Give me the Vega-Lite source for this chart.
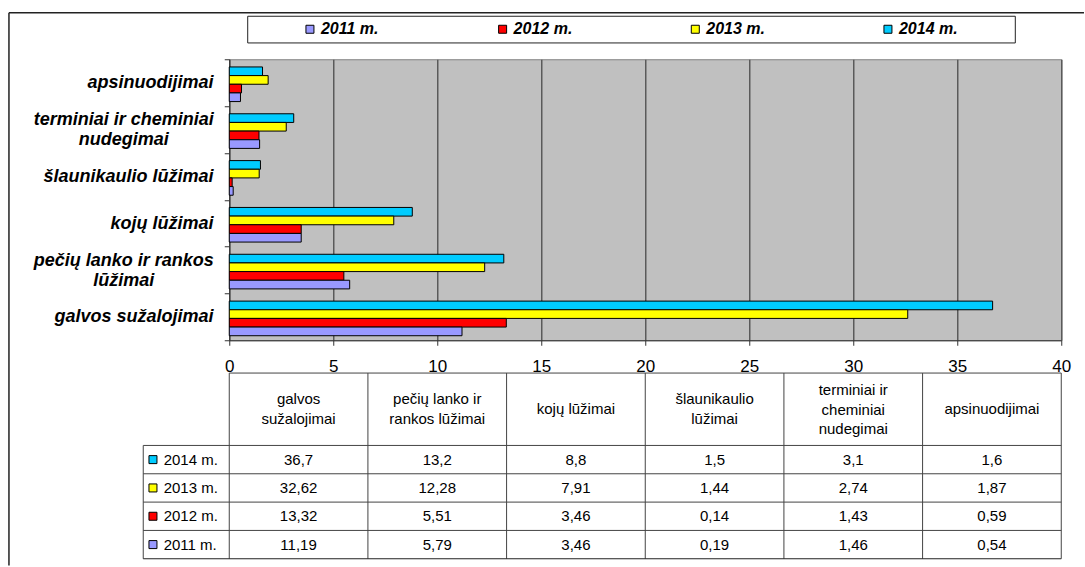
{
  "$schema": "https://vega.github.io/schema/vega-lite/v6.json",
  "background": "white",
  "padding": {"left": 7.25, "top": 11.25, "right": 0, "bottom": 0},
  "bounds": "flush",
  "spacing": 0,
  "config": {
    "font": "Liberation Sans",
    "view": {"stroke": null},
    "locale": {"number": {"decimal": ",", "thousands": " ", "grouping": [3], "currency": ["", " €"]}}
  },
  "datasets": {
    "injuries": [
      {"cat": "galvos sužalojimai", "year": 2014, "series": "2014 m.", "value": 36.7},
      {"cat": "galvos sužalojimai", "year": 2013, "series": "2013 m.", "value": 32.62},
      {"cat": "galvos sužalojimai", "year": 2012, "series": "2012 m.", "value": 13.32},
      {"cat": "galvos sužalojimai", "year": 2011, "series": "2011 m.", "value": 11.19},
      {"cat": "pečių lanko ir rankos lūžimai", "year": 2014, "series": "2014 m.", "value": 13.2},
      {"cat": "pečių lanko ir rankos lūžimai", "year": 2013, "series": "2013 m.", "value": 12.28},
      {"cat": "pečių lanko ir rankos lūžimai", "year": 2012, "series": "2012 m.", "value": 5.51},
      {"cat": "pečių lanko ir rankos lūžimai", "year": 2011, "series": "2011 m.", "value": 5.79},
      {"cat": "kojų lūžimai", "year": 2014, "series": "2014 m.", "value": 8.8},
      {"cat": "kojų lūžimai", "year": 2013, "series": "2013 m.", "value": 7.91},
      {"cat": "kojų lūžimai", "year": 2012, "series": "2012 m.", "value": 3.46},
      {"cat": "kojų lūžimai", "year": 2011, "series": "2011 m.", "value": 3.46},
      {"cat": "šlaunikaulio lūžimai", "year": 2014, "series": "2014 m.", "value": 1.5},
      {"cat": "šlaunikaulio lūžimai", "year": 2013, "series": "2013 m.", "value": 1.44},
      {"cat": "šlaunikaulio lūžimai", "year": 2012, "series": "2012 m.", "value": 0.14},
      {"cat": "šlaunikaulio lūžimai", "year": 2011, "series": "2011 m.", "value": 0.19},
      {"cat": "terminiai ir cheminiai nudegimai", "year": 2014, "series": "2014 m.", "value": 3.1},
      {"cat": "terminiai ir cheminiai nudegimai", "year": 2013, "series": "2013 m.", "value": 2.74},
      {"cat": "terminiai ir cheminiai nudegimai", "year": 2012, "series": "2012 m.", "value": 1.43},
      {"cat": "terminiai ir cheminiai nudegimai", "year": 2011, "series": "2011 m.", "value": 1.46},
      {"cat": "apsinuodijimai", "year": 2014, "series": "2014 m.", "value": 1.6},
      {"cat": "apsinuodijimai", "year": 2013, "series": "2013 m.", "value": 1.87},
      {"cat": "apsinuodijimai", "year": 2012, "series": "2012 m.", "value": 0.59},
      {"cat": "apsinuodijimai", "year": 2011, "series": "2011 m.", "value": 0.54}
    ],
    "cats": [
      {"cat": "galvos sužalojimai", "header": "galvos\nsužalojimai"},
      {"cat": "pečių lanko ir rankos lūžimai", "header": "pečių lanko ir\nrankos lūžimai"},
      {"cat": "kojų lūžimai", "header": "kojų lūžimai"},
      {"cat": "šlaunikaulio lūžimai", "header": "šlaunikaulio\nlūžimai"},
      {"cat": "terminiai ir cheminiai nudegimai", "header": "terminiai ir\ncheminiai\nnudegimai"},
      {"cat": "apsinuodijimai", "header": "apsinuodijimai"}
    ],
    "years": [
      {"year": 2011, "series": "2011 m."},
      {"year": 2012, "series": "2012 m."},
      {"year": 2013, "series": "2013 m."},
      {"year": 2014, "series": "2014 m."}
    ],
    "one": [{}]
  },
  "vconcat": [
    {
      "width": 832,
      "height": 42.5,
      "layer": [
        {
          "data": {"name": "one"},
          "mark": {"type": "rect", "fill": "white", "stroke": "#222222", "strokeWidth": 1},
          "encoding": {
            "x": {"datum": 2010.677, "type": "quantitative", "scale": {"domain": [2011, 2014], "range": [80.7, 658.7], "nice": false, "zero": false}, "axis": null},
            "x2": {"datum": 2014.661},
            "y": {"datum": 15.8, "type": "quantitative", "scale": {"domain": [0, 42.5], "nice": false, "zero": false}, "axis": null},
            "y2": {"datum": 42.5}
          }
        },
        {
          "data": {"name": "years"},
          "mark": {"type": "point", "shape": "square", "filled": true, "size": 64, "stroke": "black", "strokeWidth": 1, "opacity": 1},
          "encoding": {
            "x": {"field": "year", "type": "quantitative"},
            "y": {"datum": 29.5, "type": "quantitative"},
            "color": {"field": "series", "type": "nominal", "scale": {"domain": ["2011 m.", "2012 m.", "2013 m.", "2014 m."], "range": ["#9999FF", "#FF0000", "#FFFF00", "#00CCFF"]}, "legend": null}
          }
        },
        {
          "data": {"name": "years"},
          "mark": {"type": "text", "align": "left", "baseline": "middle", "dx": 11, "font": "Liberation Sans", "fontSize": 16, "fontWeight": "bold", "fontStyle": "italic", "color": "black"},
          "encoding": {
            "x": {"field": "year", "type": "quantitative"},
            "y": {"datum": 29.5, "type": "quantitative"},
            "text": {"field": "series"}
          }
        }
      ]
    },
    {
      "width": 832,
      "height": 281,
      "data": {"name": "injuries"},
      "view": {"fill": "#C0C0C0", "stroke": "#808080", "strokeWidth": 1},
      "mark": {"type": "bar", "stroke": "black", "strokeWidth": 1},
      "encoding": {
        "y": {
          "field": "cat", "type": "nominal",
          "sort": ["apsinuodijimai", "terminiai ir cheminiai nudegimai", "šlaunikaulio lūžimai", "kojų lūžimai", "pečių lanko ir rankos lūžimai", "galvos sužalojimai"],
          "scale": {"paddingInner": 0, "paddingOuter": 0},
          "axis": {
            "title": null,
            "domainColor": "#333333", "domainWidth": 1,
            "tickColor": "#333333", "tickSize": 5, "tickBand": "extent",
            "labelFont": "Liberation Sans", "labelFontSize": 18, "labelFontWeight": "bold", "labelFontStyle": "italic", "labelColor": "black",
            "labelLineHeight": 20, "labelLimit": 400,
            "labelExpr": "datum.value == 'terminiai ir cheminiai nudegimai' ? ['terminiai ir cheminiai', 'nudegimai'] : datum.value == 'pečių lanko ir rankos lūžimai' ? ['pečių lanko ir rankos', 'lūžimai'] : datum.value",
            "labelAlign": {"condition": {"test": "datum.value == 'terminiai ir cheminiai nudegimai' || datum.value == 'pečių lanko ir rankos lūžimai'", "value": "center"}, "value": "right"},
            "labelPadding": {"condition": {"test": "datum.value == 'terminiai ir cheminiai nudegimai' || datum.value == 'pečių lanko ir rankos lūžimai'", "value": 101}, "value": 11.3},
            "labelOffset": {"condition": {"test": "datum.value == 'terminiai ir cheminiai nudegimai' || datum.value == 'pečių lanko ir rankos lūžimai'", "value": -10}, "value": 0}
          }
        },
        "x": {
          "field": "value", "type": "quantitative",
          "scale": {"domain": [0, 40], "nice": false},
          "axis": {
            "title": null, "values": [0, 5, 10, 15, 20, 25, 30, 35, 40],
            "grid": true, "gridColor": "#5a5a5a", "gridWidth": 1.5,
            "domainColor": "#333333", "tickColor": "#333333", "tickSize": 5,
            "labelFont": "Liberation Sans", "labelFontSize": 17, "labelColor": "black", "labelPadding": 13, "labelFlush": false
          }
        },
        "yOffset": {"field": "series", "type": "nominal", "sort": "descending", "scale": {"paddingInner": 0, "paddingOuter": 0.705, "align": 0.63}},
        "color": {"field": "series", "type": "nominal", "scale": {"domain": ["2011 m.", "2012 m.", "2013 m.", "2014 m."], "range": ["#9999FF", "#FF0000", "#FFFF00", "#00CCFF"]}, "legend": null}
      }
    },
    {
      "width": 832,
      "height": 227.5,
      "data": {"name": "one"},
      "resolve": {"scale": {"x": "independent"}},
      "layer": [
        {
          "layer": [
            {
              "data": {"name": "cats"},
              "mark": {"type": "rule", "color": "#444444", "strokeWidth": 1},
              "encoding": {
                "x": {"field": "cat", "type": "nominal", "bandPosition": 0,
                      "sort": ["galvos sužalojimai", "pečių lanko ir rankos lūžimai", "kojų lūžimai", "šlaunikaulio lūžimai", "terminiai ir cheminiai nudegimai", "apsinuodijimai"],
                      "scale": {"type": "band", "paddingInner": 0, "paddingOuter": 0}, "axis": null},
                "y": {"datum": 2015.5, "type": "quantitative", "scale": {"domain": [2010.5, 2014.5, 2015.5], "range": [218.5, 105.2, 32.8], "nice": false, "zero": false}, "axis": null},
                "y2": {"datum": 2010.5}
              }
            },
            {
              "data": {"name": "cats"},
              "transform": [{"filter": {"field": "cat", "oneOf": ["kojų lūžimai", "apsinuodijimai"]}}],
              "mark": {"type": "text", "lineBreak": "\n", "lineHeight": 20, "align": "center", "baseline": "middle", "font": "Liberation Sans", "fontSize": 15, "color": "black"},
              "encoding": {
                "x": {"field": "cat", "type": "nominal",
                      "sort": ["galvos sužalojimai", "pečių lanko ir rankos lūžimai", "kojų lūžimai", "šlaunikaulio lūžimai", "terminiai ir cheminiai nudegimai", "apsinuodijimai"]},
                "y": {"datum": 2015, "type": "quantitative"},
                "text": {"field": "header"}
              }
            },
            {
              "data": {"name": "cats"},
              "transform": [{"filter": {"field": "cat", "oneOf": ["galvos sužalojimai", "pečių lanko ir rankos lūžimai", "šlaunikaulio lūžimai"]}}],
              "mark": {"type": "text", "lineBreak": "\n", "lineHeight": 20, "align": "center", "baseline": "middle", "dy": -10, "font": "Liberation Sans", "fontSize": 15, "color": "black"},
              "encoding": {
                "x": {"field": "cat", "type": "nominal",
                      "sort": ["galvos sužalojimai", "pečių lanko ir rankos lūžimai", "kojų lūžimai", "šlaunikaulio lūžimai", "terminiai ir cheminiai nudegimai", "apsinuodijimai"]},
                "y": {"datum": 2015, "type": "quantitative"},
                "text": {"field": "header"}
              }
            },
            {
              "data": {"name": "cats"},
              "transform": [{"filter": {"field": "cat", "oneOf": ["terminiai ir cheminiai nudegimai"]}}],
              "mark": {"type": "text", "lineBreak": "\n", "lineHeight": 19.5, "align": "center", "baseline": "middle", "dy": -19, "font": "Liberation Sans", "fontSize": 15, "color": "black"},
              "encoding": {
                "x": {"field": "cat", "type": "nominal",
                      "sort": ["galvos sužalojimai", "pečių lanko ir rankos lūžimai", "kojų lūžimai", "šlaunikaulio lūžimai", "terminiai ir cheminiai nudegimai", "apsinuodijimai"]},
                "y": {"datum": 2015, "type": "quantitative"},
                "text": {"field": "header"}
              }
            },
            {
              "data": {"name": "injuries"},
              "mark": {"type": "text", "align": "center", "baseline": "middle", "font": "Liberation Sans", "fontSize": 15, "color": "black"},
              "encoding": {
                "x": {"field": "cat", "type": "nominal",
                      "sort": ["galvos sužalojimai", "pečių lanko ir rankos lūžimai", "kojų lūžimai", "šlaunikaulio lūžimai", "terminiai ir cheminiai nudegimai", "apsinuodijimai"]},
                "y": {"field": "year", "type": "quantitative"},
                "text": {"field": "value", "type": "quantitative", "format": ".2~f"}
              }
            }
          ]
        },
        {
          "layer": [
            {
              "data": {"name": "years"},
              "mark": {"type": "point", "shape": "square", "filled": true, "size": 64, "stroke": "black", "strokeWidth": 1, "opacity": 1},
              "encoding": {
                "x": {"datum": -0.5502, "type": "quantitative", "scale": {"domain": [0, 6], "nice": false, "zero": false}, "axis": null},
                "y": {"field": "year", "type": "quantitative"},
                "color": {"field": "series", "type": "nominal", "scale": {"domain": ["2011 m.", "2012 m.", "2013 m.", "2014 m."], "range": ["#9999FF", "#FF0000", "#FFFF00", "#00CCFF"]}, "legend": null}
              }
            },
            {
              "data": {"name": "years"},
              "mark": {"type": "text", "align": "left", "baseline": "middle", "font": "Liberation Sans", "fontSize": 15, "color": "black"},
              "encoding": {
                "x": {"datum": -0.4731, "type": "quantitative"},
                "y": {"field": "year", "type": "quantitative"},
                "text": {"field": "series"}
              }
            },
            {
              "mark": {"type": "rule", "color": "#444444", "strokeWidth": 1},
              "encoding": {"x": {"datum": 6, "type": "quantitative"}, "y": {"datum": 2015.5, "type": "quantitative"}, "y2": {"datum": 2010.5}}
            },
            {
              "mark": {"type": "rule", "color": "#444444", "strokeWidth": 1},
              "encoding": {"x": {"datum": -0.6202, "type": "quantitative"}, "y": {"datum": 2014.5, "type": "quantitative"}, "y2": {"datum": 2010.5}}
            },
            {
              "mark": {"type": "rule", "color": "#444444", "strokeWidth": 1},
              "encoding": {"x": {"datum": 0, "type": "quantitative"}, "x2": {"datum": 6}, "y": {"datum": 2015.5, "type": "quantitative"}}
            },
            {
              "mark": {"type": "rule", "color": "#444444", "strokeWidth": 1},
              "encoding": {"x": {"datum": -0.6202, "type": "quantitative"}, "x2": {"datum": 6}, "y": {"datum": 2014.5, "type": "quantitative"}}
            },
            {
              "mark": {"type": "rule", "color": "#444444", "strokeWidth": 1},
              "encoding": {"x": {"datum": -0.6202, "type": "quantitative"}, "x2": {"datum": 6}, "y": {"datum": 2013.5, "type": "quantitative"}}
            },
            {
              "mark": {"type": "rule", "color": "#444444", "strokeWidth": 1},
              "encoding": {"x": {"datum": -0.6202, "type": "quantitative"}, "x2": {"datum": 6}, "y": {"datum": 2012.5, "type": "quantitative"}}
            },
            {
              "mark": {"type": "rule", "color": "#444444", "strokeWidth": 1},
              "encoding": {"x": {"datum": -0.6202, "type": "quantitative"}, "x2": {"datum": 6}, "y": {"datum": 2011.5, "type": "quantitative"}}
            },
            {
              "mark": {"type": "rule", "color": "#222222", "strokeWidth": 1},
              "encoding": {"x": {"datum": -0.6202, "type": "quantitative"}, "x2": {"datum": 6}, "y": {"datum": 2010.5, "type": "quantitative"}}
            },
            {
              "mark": {"type": "rule", "color": "#222222", "strokeWidth": 1.5},
              "encoding": {"x": {"datum": -1.5887, "type": "quantitative"}, "y": {"datum": 2020.4765, "type": "quantitative"}, "y2": {"datum": 2010.26}}
            },
            {
              "mark": {"type": "rule", "color": "#222222", "strokeWidth": 1.5},
              "encoding": {"x": {"datum": -1.5887, "type": "quantitative"}, "x2": {"datum": 6.164}, "y": {"datum": 2020.4765, "type": "quantitative"}}
            }
          ]
        }
      ]
    }
  ]
}
